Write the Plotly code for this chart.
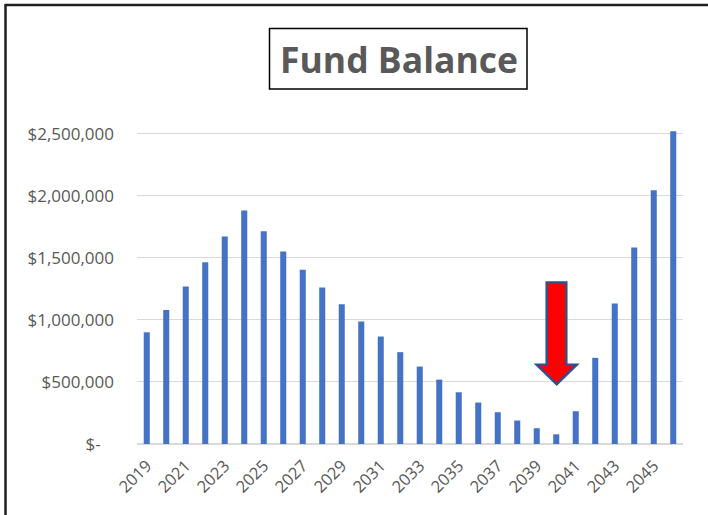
import plotly.graph_objects as go

years = [str(y) for y in range(2019, 2047)]
balance = [900000, 1080000, 1270000, 1465000, 1672000, 1882000, 1715000, 1552000,
           1403000, 1261000, 1127000, 987000, 866000, 740000, 624000, 519000,
           417000, 334000, 256000, 189000, 127000, 78000, 264000, 694000,
           1132000, 1584000, 2044000, 2519000]
tick_years = years[::2]
y_tickvals = [0, 500000, 1000000, 1500000, 2000000, 2500000]
y_ticktext = ["$-\u00a0\u00a0\u00a0", "$500,000", "$1,000,000", "$1,500,000", "$2,000,000", "$2,500,000"]

W, H = 708, 515
ML, MR, MT, MB = 137, 25, 130, 71
PW, PH = W - ML - MR, H - MT - MB


def px(x):
    return (x - ML) / PW


def py(y):
    return (H - MB - y) / PH


fig = go.Figure(go.Bar(x=years, y=balance, marker=dict(color="#4472C4", line=dict(width=0)),
                       hoverinfo="x+y"))

grey = "#595959"
fig.update_layout(
    width=W, height=H,
    margin=dict(l=ML, r=MR, t=MT, b=MB),
    paper_bgcolor="white", plot_bgcolor="white",
    bargap=0.69,
    showlegend=False,
    font=dict(family="Open Sans", color=grey, size=16),
    xaxis=dict(type="category", tickmode="array", tickvals=tick_years, ticktext=tick_years,
               tickangle=-45, showgrid=False, showline=False, ticks="",
               ticklabelstandoff=8,
               tickfont=dict(size=16.5, color=grey)),
    yaxis=dict(range=[0, 2530000], tickmode="array", tickvals=y_tickvals, ticktext=y_ticktext,
               showgrid=True, gridcolor="#D9D9D9", gridwidth=1.3,
               zeroline=True, zerolinecolor="#D9D9D9", zerolinewidth=2,
               showline=False, ticks="", ticklabelstandoff=22,
               tickfont=dict(size=17, color=grey)),
)

shapes = []
# outer frame (top and left edges)
shapes.append(dict(type="line", xref="paper", yref="paper", x0=px(5), x1=px(708), y0=py(5), y1=py(5),
                   line=dict(color="#1F1F1F", width=2.5)))
shapes.append(dict(type="line", xref="paper", yref="paper", x0=px(5.5), x1=px(5.5), y0=py(4), y1=py(515),
                   line=dict(color="#1F1F1F", width=2.5)))
# title box
shapes.append(dict(type="rect", xref="paper", yref="paper", x0=px(269.5), x1=px(527), y0=py(28.5), y1=py(89),
                   line=dict(color="#000000", width=1.5), fillcolor="rgba(0,0,0,0)"))
# red block arrow
pts = [(546.7, 282.5), (566.3, 282.5), (566.3, 364.7), (576.7, 364.7), (556.7, 384.3),
       (536.7, 364.7), (546.7, 364.7)]
path = "M " + " L ".join(f"{px(a):.5f},{py(b):.5f}" for a, b in pts) + " Z"
shapes.append(dict(type="path", xref="paper", yref="paper", path=path,
                   fillcolor="#FF0000", line=dict(color="#2F528F", width=2.5)))
fig.update_layout(shapes=shapes)

fig.add_annotation(text="Fund Balance", xref="paper", yref="paper", x=px(398.5), y=py(59),
                   xanchor="center", yanchor="middle", showarrow=False,
                   font=dict(family="Open Sans", size=35.5, color=grey, weight="bold"))

fig.write_html("out.html", config={"displayModeBar": False},
               post_script="document.body.style.margin='0';document.body.style.overflow='hidden';")
